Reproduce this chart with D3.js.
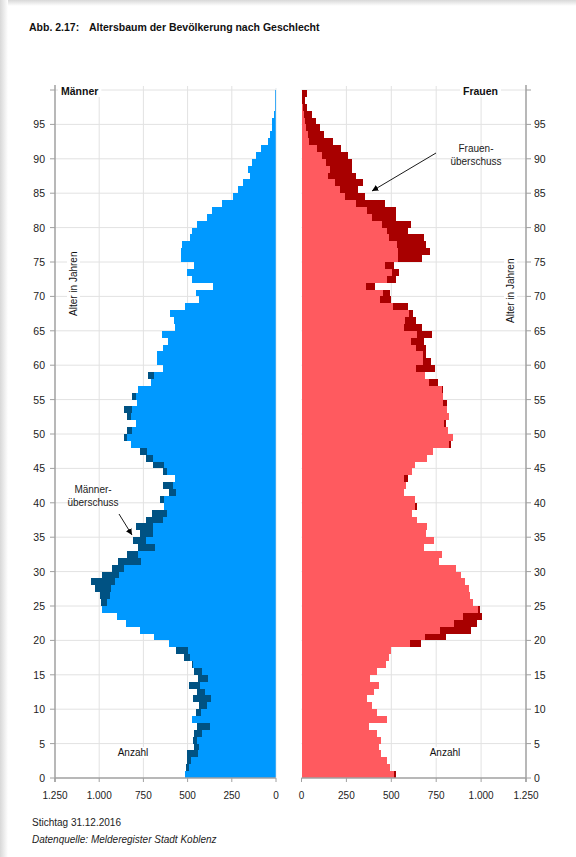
<!DOCTYPE html>
<html><head><meta charset="utf-8">
<script src="https://cdn.jsdelivr.net/npm/d3@7"></script>
<style>
html,body{margin:0;padding:0;background:#fff;}
svg{display:block;font-family:"Liberation Sans",Arial,sans-serif;}
</style></head>
<body>
<svg id="chart" width="576" height="857"></svg>
<script>
// Ages 0..99
const ages = d3.range(0, 100);
const maenner = [515,508,505,501,463,467,463,448,475,452,
 433,467,448,490,442,461,476,518,565,603,
 689,772,849,900,985,990,998,1026,1047,985,
 928,894,844,780,810,772,791,734,700,631,
 655,603,637,571,640,693,734,772,821,857,
 840,793,844,862,787,812,780,708,723,640,
 674,674,638,612,644,572,578,599,512,435,
 452,358,476,505,463,535,539,533,486,476,
 448,392,363,303,241,213,185,147,156,137,
 115,85,43,34,25,20,12,8,5,3];
const frauen = [528,491,478,441,434,445,420,376,478,423,
 393,367,402,430,383,420,470,485,497,668,
 802,941,976,1006,996,955,940,935,910,888,
 862,763,780,683,738,694,697,641,617,643,
 631,568,583,593,617,634,696,732,830,843,
 815,806,822,812,809,790,787,761,688,743,
 720,694,691,680,728,672,635,622,594,496,
 491,409,524,543,517,672,716,694,681,593,
 611,528,528,467,352,315,343,306,281,281,
 259,222,174,126,102,83,56,31,19,31];
const xTicks = [0,250,500,750,1000,1250];
const yTicks = d3.range(0, 101, 5);
const fmt = d3.formatLocale({decimal:",", thousands:".", grouping:[3]}).format(",d");

const svg = d3.select("#chart");
// screenshot-like shadow edges
const defs = svg.append("defs");
const gT = defs.append("linearGradient").attr("id","gt").attr("x1",0).attr("y1",0).attr("x2",0).attr("y2",1);
gT.append("stop").attr("offset","0").attr("stop-color","#d8d8d8");
gT.append("stop").attr("offset","1").attr("stop-color","#fff");
const gL = defs.append("linearGradient").attr("id","gl").attr("x1",0).attr("y1",0).attr("x2",1).attr("y2",0);
gL.append("stop").attr("offset","0").attr("stop-color","#d8d8d8");
gL.append("stop").attr("offset","1").attr("stop-color","#fff");
svg.append("rect").attr("x",0).attr("y",0).attr("width",576).attr("height",6).attr("fill","url(#gt)");
svg.append("rect").attr("x",0).attr("y",0).attr("width",8).attr("height",857).attr("fill","url(#gl)");

const y = d3.scaleLinear().domain([0,100]).range([778,90]);
const xL = d3.scaleLinear().domain([0,1250]).range([276,55]);
const xR = d3.scaleLinear().domain([0,1250]).range([301.5,526]);

const cLight = "#0099ff", cDark = "#005283", rLight = "#ff5a5f", rDark = "#a80000";
const gridC = "#e2e2e2", axisC = "#a0a0a0";

// Title
svg.append("text").attr("x",29).attr("y",31).attr("font-size",10.5).attr("font-weight","bold").attr("fill","#111").text("Abb. 2.17:");
svg.append("text").attr("x",89).attr("y",31).attr("font-size",10.5).attr("font-weight","bold").attr("fill","#111").text("Altersbaum der Bevölkerung nach Geschlecht");

function panel(x, side){
  const g = svg.append("g");
  const [x0,x1] = [Math.min(...x.range()), Math.max(...x.range())];
  // vertical grid
  g.selectAll(".vg").data(xTicks.filter(d=>d>0 && d<1250)).join("line")
    .attr("x1",d=>x(d)).attr("x2",d=>x(d)).attr("y1",86).attr("y2",y(0))
    .attr("stroke",gridC).attr("stroke-width",1);
  // horizontal grid
  g.selectAll(".hg").data(yTicks.filter(d=>d>0)).join("line")
    .attr("x1",x0).attr("x2",x1).attr("y1",d=>y(d)).attr("y2",d=>y(d))
    .attr("stroke",gridC).attr("stroke-width",1);
  return g;
}
const gLeft = panel(xL,"L");
const gRight = panel(xR,"R");

// Labels with white background (over grid)
function bgText(x, yy, txt, opts){
  const t = svg.append("text").attr("x",x).attr("y",yy).attr("font-size",opts.size||10)
    .attr("fill","#111").attr("text-anchor",opts.anchor||"start")
    .attr("font-weight",opts.bold?"bold":"normal").text(txt);
  if(opts.rotate) t.attr("transform",`rotate(-90,${x},${yy})`);
  const b = t.node().getBBox();
  let r;
  if(opts.rotate){
    // bbox in unrotated coords; draw rotated rect
    r = svg.insert("rect", () => t.node()).attr("x",b.x-3).attr("y",b.y-1).attr("width",b.width+6).attr("height",b.height+2)
      .attr("fill","#fff").attr("transform",`rotate(-90,${x},${yy})`);
  } else {
    r = svg.insert("rect", () => t.node()).attr("x",b.x-3).attr("y",b.y).attr("width",b.width+6).attr("height",b.height).attr("fill","#fff");
  }
  return t;
}
bgText(77, 316, "Alter in Jahren", {rotate:true, size:10});
bgText(514, 323, "Alter in Jahren", {rotate:true, size:10});
bgText(133, 756, "Anzahl", {anchor:"middle", size:10});
bgText(445, 756, "Anzahl", {anchor:"middle", size:10});

// Bars
const rows = ages.map((a,i)=>({age:a, m:maenner[i], f:frauen[i], lo:Math.min(maenner[i],frauen[i])}));
const bh = d => y(d.age) - y(d.age+1);
const bars = svg.append("g").attr("shape-rendering","crispEdges");
bars.selectAll(".ml").data(rows).join("rect")
  .attr("x",d=>xL(d.lo)).attr("width",d=>xL(0)-xL(d.lo))
  .attr("y",d=>y(d.age+1)).attr("height",bh).attr("fill",cLight);
bars.selectAll(".md").data(rows.filter(d=>d.m>d.f)).join("rect")
  .attr("x",d=>xL(d.m)).attr("width",d=>xL(d.f)-xL(d.m))
  .attr("y",d=>y(d.age+1)).attr("height",bh).attr("fill",cDark);
bars.selectAll(".fl").data(rows).join("rect")
  .attr("x",xR(0)).attr("width",d=>xR(d.lo)-xR(0))
  .attr("y",d=>y(d.age+1)).attr("height",bh).attr("fill",rLight);
bars.selectAll(".fd").data(rows.filter(d=>d.f>d.m)).join("rect")
  .attr("x",d=>xR(d.m)).attr("width",d=>xR(d.f)-xR(d.m))
  .attr("y",d=>y(d.age+1)).attr("height",bh).attr("fill",rDark);

// Axes
const axG = svg.append("g").attr("font-size",10).attr("fill","#222");
function xAxis(x){
  const [x0,x1] = [Math.min(...x.range()), Math.max(...x.range())];
  axG.append("line").attr("x1",x0).attr("x2",x1).attr("y1",y(0)).attr("y2",y(0)).attr("stroke",axisC).attr("stroke-width",1.5);
  axG.selectAll(null).data(xTicks).join("line").attr("x1",d=>x(d)).attr("x2",d=>x(d))
    .attr("y1",y(0)).attr("y2",y(0)+4).attr("stroke",axisC);
  axG.selectAll(null).data(xTicks).join("text").attr("x",d=>x(d)).attr("y",y(0)+21)
    .attr("text-anchor","middle").attr("font-size",10).attr("fill","#222").text(d=>fmt(d));
}
xAxis(xL); xAxis(xR);
// left y axis
axG.append("line").attr("x1",55).attr("x2",55).attr("y1",85).attr("y2",y(0)+4).attr("stroke",axisC).attr("stroke-width",1.5);
axG.selectAll(null).data(yTicks).join("line").attr("x1",50).attr("x2",55).attr("y1",d=>y(d)).attr("y2",d=>y(d)).attr("stroke",axisC);
axG.selectAll(null).data(yTicks.filter(d=>d<100)).join("text").attr("x",45).attr("y",d=>y(d)+4)
  .attr("text-anchor","end").attr("font-size",10.5).attr("fill","#222").text(d=>d);
// right y axis
axG.append("line").attr("x1",526).attr("x2",526).attr("y1",85).attr("y2",y(0)+4).attr("stroke",axisC).attr("stroke-width",1.5);
axG.selectAll(null).data(yTicks).join("line").attr("x1",526).attr("x2",531).attr("y1",d=>y(d)).attr("y2",d=>y(d)).attr("stroke",axisC);
axG.selectAll(null).data(yTicks.filter(d=>d<100)).join("text").attr("x",534).attr("y",d=>y(d)+4)
  .attr("text-anchor","start").attr("font-size",10.5).attr("fill","#222").text(d=>d);
// axis line at zero of each panel (thin)
svg.append("line").attr("x1",xL(0)).attr("x2",xL(0)).attr("y1",88).attr("y2",y(0)).attr("stroke","#cfd8e0").attr("stroke-width",0.6);

bgText(61, 95, "Männer", {bold:true, size:10.5});
bgText(498, 95, "Frauen", {bold:true, size:10.5, anchor:"end"});

// Annotations
const ann = svg.append("g").attr("font-size",10).attr("fill","#222");
ann.append("text").attr("x",93).attr("y",493).attr("text-anchor","middle").text("Männer-");
ann.append("text").attr("x",93).attr("y",506).attr("text-anchor","middle").text("überschuss");
ann.append("text").attr("x",476).attr("y",152).attr("text-anchor","middle").text("Frauen-");
ann.append("text").attr("x",476).attr("y",165).attr("text-anchor","middle").text("überschuss");
defs.append("marker").attr("id","ah").attr("viewBox","0 0 10 10").attr("refX",10).attr("refY",5)
  .attr("markerWidth",7).attr("markerHeight",7).attr("orient","auto-start-reverse")
  .append("path").attr("d","M0,0L10,5L0,10Z").attr("fill","#000");
svg.append("line").attr("x1",119).attr("y1",514).attr("x2",132).attr("y2",535)
  .attr("stroke","#000").attr("stroke-width",0.9).attr("marker-end","url(#ah)");
svg.append("line").attr("x1",436).attr("y1",153).attr("x2",372).attr("y2",191)
  .attr("stroke","#000").attr("stroke-width",0.9).attr("marker-end","url(#ah)");

// Footer
svg.append("text").attr("x",32).attr("y",826).attr("font-size",10).attr("fill","#222").text("Stichtag 31.12.2016");
svg.append("text").attr("x",32).attr("y",843).attr("font-size",10).attr("font-style","italic").attr("fill","#222").text("Datenquelle: Melderegister Stadt Koblenz");
</script>
</body></html>
